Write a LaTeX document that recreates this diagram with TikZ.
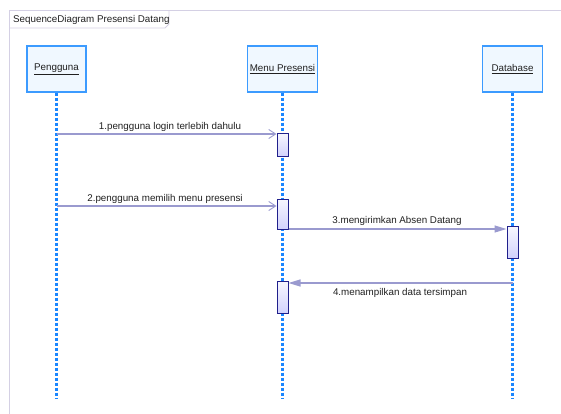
\documentclass[tikz,border=0pt]{standalone}
\usepackage{fontspec}
\setmainfont{Liberation Sans}
\usetikzlibrary{arrows.meta}
\definecolor{frameC}{HTML}{D4D0E4}
\definecolor{headB}{HTML}{3C9BFF}
\definecolor{headF}{HTML}{F0F8FF}
\definecolor{lifeC}{HTML}{1A86FF}
\definecolor{msgC}{HTML}{9A9ACF}
\definecolor{actB}{HTML}{20208C}
\definecolor{actF}{HTML}{E4E4FC}
\definecolor{txtC}{HTML}{202020}
\tikzset{
  head/.style={draw=headB, line width=1.3pt, fill=headF, minimum width=59pt, minimum height=46pt, inner sep=0pt, font=\fontsize{9.8}{11}\selectfont, text=txtC},
  life/.style={draw=lifeC, line width=2.2pt, dash pattern=on 3pt off 2pt},
  act/.style={draw=actB, line width=1pt, top color=white!70!actF, bottom color=actF!90!blue!90, minimum width=11pt, inner sep=0pt},
  msg/.style={draw=msgC, line width=1.2pt},
  syncmsg/.style={msg, -{Straight Barb[length=7pt,width=9pt,line width=0.9pt]}},
  fillmsg/.style={msg, -{Triangle[length=12pt,width=7pt]}, fill=msgC},
  lbl/.style={font=\fontsize{9.8}{11}\selectfont, text=txtC, inner sep=1pt},
}
\begin{document}
\begin{tikzpicture}[x=1pt,y=-1pt]
\useasboundingbox (0,0) rectangle (561,414);
% frame
\draw[frameC, line width=1pt] (9,414) -- (9,11) -- (561,11);
\draw[frameC, line width=0.8pt] (9,28) -- (165,28) -- (169,24) -- (169,11);
\node[lbl, anchor=west] (title) at (12,19.5) {SequenceDiagram Presensi Datang};
% heads
\node[head] (peng) at (56.5,69) {\underline{Pengguna}};
\node[head, minimum width=70pt] (menu) at (282.5,69) {\underline{Menu Presensi}};
\node[head, minimum width=60pt] (db) at (512.5,69) {\underline{Database}};
% lifelines
\coordinate (pengE) at (56.5,398);
\coordinate (menuE) at (282.5,398);
\coordinate (dbE) at (512.5,398);
\draw[life] (peng.south) -- (pengE);
\draw[life] (menu.south) -- (menuE);
\draw[life] (db.south) -- (dbE);
% activations
\node[act, minimum height=23pt, anchor=north] (a1) at (282.5,133) {};
\node[act, minimum height=30pt, anchor=north] (a2) at (282.5,198.5) {};
\node[act, minimum height=32pt, anchor=north] (a3) at (512.5,226) {};
\node[act, minimum height=32pt, anchor=north] (a4) at (282.5,281) {};
% message ends
\coordinate (m1s) at (56.5,134);
\coordinate (m2s) at (56.5,206);
\coordinate (m4s) at (512.5,283);
\draw[syncmsg] (m1s) -- (m1s -| a1.west);
\node[lbl] (l1) at (170,127) {1.pengguna login terlebih dahulu};
\draw[syncmsg] (m2s) -- (m2s -| a2.west);
\node[lbl] (l2) at (165,198.5) {2.pengguna memilih menu presensi};
\draw[fillmsg] (a2.south east) ++(0,-0.5) coordinate (m3s) -- (m3s -| a3.west);
\node[lbl] (l3) at (397,220.5) {3.mengirimkan Absen Datang};
\draw[fillmsg] (m4s) -- (m4s -| a4.east);
\node[lbl] (l4) at (400,292.5) {4.menampilkan data tersimpan};
\end{tikzpicture}
\end{document}
